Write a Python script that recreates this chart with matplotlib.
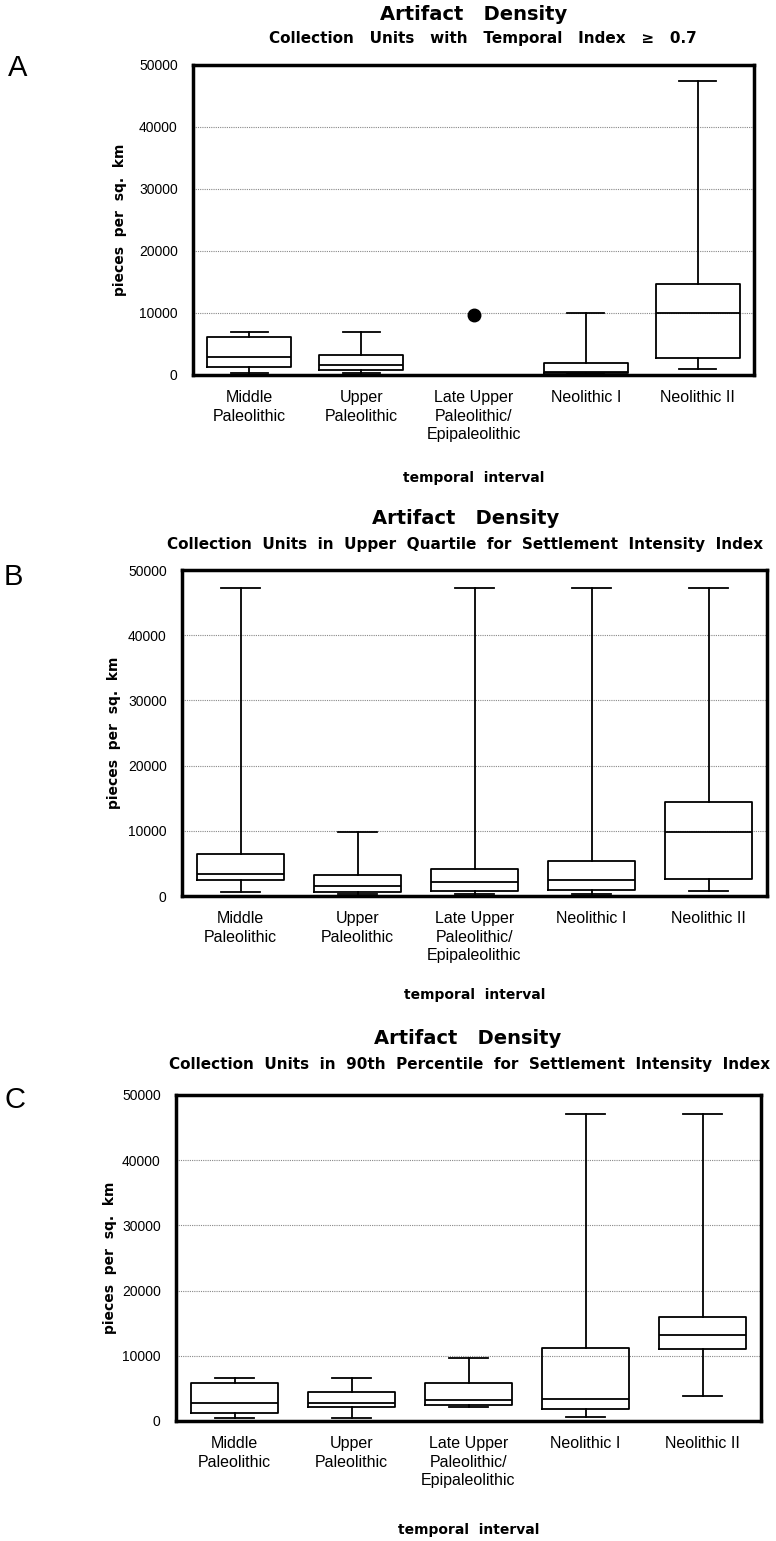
import numpy as np
import matplotlib.pyplot as plt

W = 776
H = 1541

categories = ["Middle\nPaleolithic", "Upper\nPaleolithic", "Late Upper\nPaleolithic/\nEpipaleolithic",
              "Neolithic I", "Neolithic II"]

# panel A (Late Upper has only one value -> dot)
a_low = [320, 300, None, 200, 1000]
a_q1 = [1230, 750, None, 400, 2750]
a_med = [2900, 1560, None, 450, 10000]
a_q3 = [6200, 3170, None, 2000, 14700]
a_high = [7000, 7000, None, 10000, 47400]
a_point = 9700

# panel B
b_low = [660, 250, 250, 250, 720]
b_q1 = [2400, 610, 720, 920, 2660]
b_med = [3370, 1480, 2200, 2450, 9760]
b_q3 = [6390, 3220, 4140, 5420, 14420]
b_high = [47300, 9760, 47300, 47300, 47300]

# panel C
c_low = [510, 510, 2200, 600, 3850]
c_q1 = [1180, 2200, 2450, 1790, 11050]
c_med = [2710, 2710, 3220, 3320, 13250]
c_q3 = [5900, 4400, 5800, 11130, 15900]
c_high = [6650, 6650, 9650, 47140, 47140]

titles = ["Collection   Units   with   Temporal   Index   \u2265   0.7",
          "Collection  Units  in  Upper  Quartile  for  Settlement  Intensity  Index",
          "Collection  Units  in  90th  Percentile  for  Settlement  Intensity  Index"]
letters = ["A", "B", "C"]

# axes boxes in pixels: left, right, top, bottom
frames = [(193, 754, 65, 375), (182, 767, 570, 896), (176, 761, 1095, 1421)]
title_y = [(14, 39), (518, 545), (1038, 1065)]
title_x = [474, 466, 468]
sub_x = [483, 465, 470]
ylab_x = [120, 114, 110]
xlab_y = [478, 995, 1530]
letter_pos = [(18, 68), (13, 577), (15, 1100)]

panels = [(a_low, a_q1, a_med, a_q3, a_high),
          (b_low, b_q1, b_med, b_q3, b_high),
          (c_low, c_q1, c_med, c_q3, c_high)]

fig = plt.figure(figsize=(W / 100, H / 100), dpi=100)
fig.patch.set_facecolor('white')

for i in range(3):
    l, r, t, b = frames[i]
    ax = fig.add_axes([l / W, 1 - b / H, (r - l) / W, (b - t) / H])
    low, q1, med, q3, high = panels[i]
    stats = []
    pos = []
    for j in range(len(categories)):
        if low[j] is None:
            continue
        stats.append({'whislo': low[j], 'q1': q1[j], 'med': med[j], 'q3': q3[j], 'whishi': high[j]})
        pos.append(j + 1)
    lp = dict(color='black', linewidth=1.3)
    ax.bxp(stats, positions=pos, widths=0.75, capwidths=0.33, showfliers=False,
           boxprops=lp, whiskerprops=lp, capprops=lp, medianprops=lp, zorder=3)
    if i == 0:
        ax.plot([3], [a_point], 'o', color='black', markersize=9, zorder=4)

    ax.set_xlim(0.5, 5.5)
    ax.set_ylim(0, 50000)
    ax.set_yticks(np.arange(0, 50001, 10000))
    ax.set_yticklabels([str(v) for v in range(0, 50001, 10000)], family='Liberation Sans', fontsize=10)
    ax.set_xticks(range(1, 6))
    ax.set_xticklabels(categories, family='Liberation Sans', fontsize=11.5, linespacing=1.3, va='top')
    ax.tick_params(axis='y', length=0, pad=11)
    ax.tick_params(axis='x', length=0, pad=11)
    ax.grid(axis='y', linestyle=(0, (1, 1)), color='#888888', linewidth=0.8, zorder=1)
    ax.set_axisbelow(True)
    for s in ax.spines.values():
        s.set_linewidth(2.5)
        s.set_zorder(5)

    fig.text(title_x[i] / W, 1 - title_y[i][0] / H, "Artifact   Density", ha='center', va='center',
             family='DejaVu Sans', weight='bold', fontsize=14)
    fig.text(sub_x[i] / W, 1 - title_y[i][1] / H, titles[i], ha='center', va='center',
             family='DejaVu Sans', weight='bold', fontsize=11)
    fig.text(ylab_x[i] / W, 1 - (t + b) / 2 / H, "pieces  per  sq.  km", rotation=90, ha='center', va='center',
             family='DejaVu Sans', weight='bold', fontsize=10)
    fig.text((l + r) / 2 / W, 1 - xlab_y[i] / H, "temporal  interval", ha='center', va='center',
             family='DejaVu Sans', weight='bold', fontsize=10)
    fig.text(letter_pos[i][0] / W, 1 - letter_pos[i][1] / H, letters[i], ha='center', va='center',
             family='Liberation Sans', fontsize=21)

fig.savefig('out.png', dpi=100)
